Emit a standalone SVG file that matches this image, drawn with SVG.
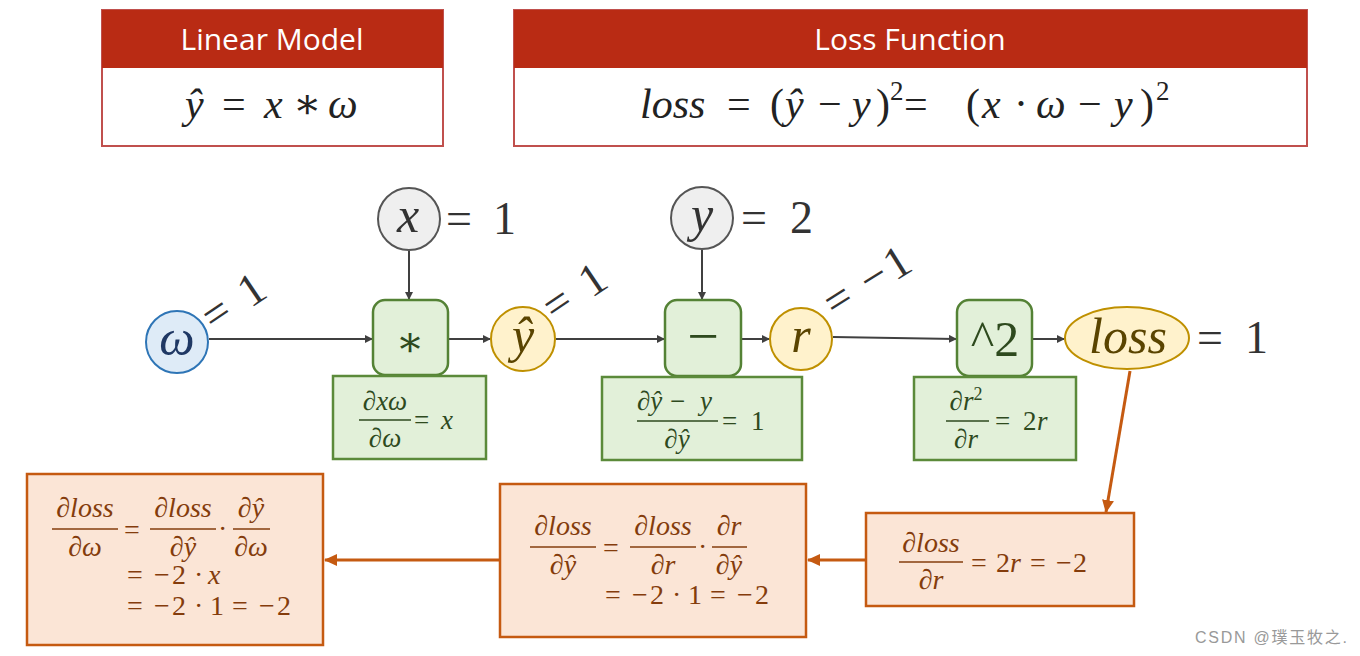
<svg xmlns="http://www.w3.org/2000/svg" width="1360" height="656" viewBox="0 0 1360 656">
<defs>
<style>
.hdr{fill:#B92B14}
.hbox{fill:#fff;stroke:#C0504D;stroke-width:2}
.htxt{font-family:"Open Sans","Noto Sans",sans-serif;font-size:30px;fill:#fff;text-anchor:middle}
.m{font-family:"Liberation Serif","DejaVu Serif",serif;font-style:italic}
.u{font-style:normal}
.top{font-size:42px;fill:#222}
.big{font-size:46px;fill:#333}
.nl{font-size:50px}
.grn{fill:#E2F0D9;stroke:#548235;stroke-width:2.5}
.gbox{fill:#E2F0D9;stroke:#5B8A3A;stroke-width:2.5}
.gt{font-size:27px;fill:#2E4A1E}
.org{fill:#FBE5D6;stroke:#C55A11;stroke-width:2.5}
.ot{font-size:28px;fill:#843C0C}
.gl{stroke:#2E4A1E;stroke-width:1.6}
.ol{stroke:#843C0C;stroke-width:1.6}
.blk{stroke:#404040;stroke-width:2;fill:none;marker-end:url(#ab)}
.orl{stroke:#C55A11;stroke-width:3;fill:none;marker-end:url(#ao)}
</style>
<marker id="ab" markerWidth="8" markerHeight="8" refX="7" refY="4" orient="auto" markerUnits="userSpaceOnUse"><path d="M0,0 L8,4 L0,8 z" fill="#404040"/></marker>
<marker id="ao" markerWidth="14" markerHeight="14" refX="12" refY="7" orient="auto" markerUnits="userSpaceOnUse"><path d="M0,1 L13,7 L0,13 z" fill="#C55A11"/></marker>
</defs>

<g id="linear-model">
<rect class="hbox" x="102" y="10" width="341" height="136"/>
<rect class="hdr" x="102" y="10" width="341" height="58"/>
<text class="htxt" x="272" y="50">Linear Model</text>
<text class="m top" y="118"><tspan x="185">ŷ</tspan><tspan class="u" x="222">=</tspan><tspan x="264">x</tspan><tspan class="u" x="293">∗</tspan><tspan x="328">ω</tspan></text>
</g>

<g id="loss-function">
<rect class="hbox" x="514" y="10" width="793" height="136"/>
<rect class="hdr" x="514" y="10" width="793" height="58"/>
<text class="htxt" x="910" y="50">Loss Function</text>
<text class="m top" y="118"><tspan x="640">loss</tspan><tspan class="u" x="727">=</tspan><tspan class="u" x="770">(</tspan><tspan x="785">ŷ</tspan><tspan class="u" x="818">−</tspan><tspan x="852">y</tspan><tspan class="u" x="876">)</tspan><tspan class="u" x="890" font-size="27" dy="-18">2</tspan><tspan class="u" x="904" dy="18">=</tspan><tspan class="u" x="966">(</tspan><tspan x="982">x</tspan><tspan class="u" x="1014">·</tspan><tspan x="1036">ω</tspan><tspan class="u" x="1078">−</tspan><tspan x="1114">y</tspan><tspan class="u" x="1140">)</tspan><tspan class="u" x="1156" font-size="27" dy="-18">2</tspan></text>
</g>

<g id="connectors">
<line class="blk" x1="209" y1="339" x2="372" y2="339"/>
<line class="blk" x1="409" y1="251" x2="409" y2="299"/>
<line class="blk" x1="449" y1="339" x2="490" y2="339"/>
<line class="blk" x1="556" y1="339" x2="664" y2="339"/>
<line class="blk" x1="702" y1="250" x2="702" y2="299"/>
<line class="blk" x1="742" y1="339" x2="769" y2="339"/>
<line class="blk" x1="833" y1="337" x2="956" y2="339"/>
<line class="blk" x1="1033" y1="339" x2="1064" y2="339"/>
<line class="orl" x1="1130" y1="371" x2="1106" y2="512"/>
<line class="orl" x1="866" y1="560" x2="808" y2="560"/>
<line class="orl" x1="500" y1="560" x2="325" y2="560"/>
</g>

<g id="node-omega">
<circle cx="177" cy="342" r="31" fill="#DEEBF7" stroke="#2E75B6" stroke-width="2"/>
<text class="m nl" x="177" y="355" text-anchor="middle" fill="#1F3864">ω</text>
<text class="m big u" transform="translate(214,333) rotate(-34)"><tspan x="0">=</tspan><tspan x="44">1</tspan></text>
</g>

<g id="node-x">
<circle cx="409" cy="219" r="31" fill="#EFEFEF" stroke="#555" stroke-width="2"/>
<text class="m nl" x="408" y="232" text-anchor="middle" fill="#333">x</text>
<text class="m big u" y="234"><tspan x="446">=</tspan><tspan x="493">1</tspan></text>
</g>

<g id="node-mul">
<rect class="grn" x="373" y="300" width="75" height="75" rx="12"/>
<text class="m u" x="410" y="356" text-anchor="middle" font-size="42" fill="#2E4A1E">∗</text>
</g>

<g id="node-yhat">
<circle cx="523" cy="339" r="32" fill="#FFF2CC" stroke="#BF9000" stroke-width="2"/>
<text class="m nl" x="523" y="352" text-anchor="middle" fill="#5A4400">ŷ</text>
<text class="m big u" transform="translate(555,323) rotate(-34)"><tspan x="0">=</tspan><tspan x="44">1</tspan></text>
</g>

<g id="node-y">
<circle cx="702" cy="218" r="31" fill="#EFEFEF" stroke="#555" stroke-width="2"/>
<text class="m nl" x="702" y="231" text-anchor="middle" fill="#333">y</text>
<text class="m big u" y="233"><tspan x="741">=</tspan><tspan x="790">2</tspan></text>
</g>

<g id="node-sub">
<rect class="grn" x="665" y="300" width="76" height="76" rx="12"/>
<text class="m u" x="703" y="355" text-anchor="middle" font-size="56" fill="#2E4A1E">−</text>
</g>

<g id="node-r">
<circle cx="801" cy="339" r="31" fill="#FFF2CC" stroke="#BF9000" stroke-width="2"/>
<text class="m nl" x="801" y="352" text-anchor="middle" fill="#5A4400">r</text>
<text class="m big u" transform="translate(835,319) rotate(-32)"><tspan x="0">=</tspan><tspan x="42">−</tspan><tspan x="71">1</tspan></text>
</g>

<g id="node-sq">
<rect class="grn" x="957" y="300" width="75" height="76" rx="12"/>
<text class="m u" x="995" y="356" text-anchor="middle" font-size="50" fill="#2E4A1E">^2</text>
</g>

<g id="node-loss">
<ellipse cx="1127" cy="338" rx="62" ry="31" fill="#FFF2CC" stroke="#BF9000" stroke-width="2"/>
<text class="m nl" x="1128" y="353" text-anchor="middle" fill="#5A4400">loss</text>
<text class="m big u" y="353"><tspan x="1197">=</tspan><tspan x="1245">1</tspan></text>
</g>

<g id="deriv-mul">
<rect class="gbox" x="333" y="376" width="153" height="83"/>
<text class="m gt" x="385" y="410" text-anchor="middle">∂xω</text>
<line class="gl" x1="359" y1="420" x2="411" y2="420"/>
<text class="m gt" x="385" y="447" text-anchor="middle">∂ω</text>
<text class="m gt" y="429"><tspan class="u" x="414">=</tspan><tspan x="441">x</tspan></text>
</g>

<g id="deriv-sub">
<rect class="gbox" x="602" y="377" width="200" height="83"/>
<text class="m gt" y="410"><tspan x="637">∂ŷ</tspan><tspan class="u" x="670">−</tspan><tspan x="700">y</tspan></text>
<line class="gl" x1="637" y1="421" x2="718" y2="421"/>
<text class="m gt" x="677" y="448" text-anchor="middle">∂ŷ</text>
<text class="m gt u" y="430"><tspan x="722">=</tspan><tspan x="751">1</tspan></text>
</g>

<g id="deriv-sq">
<rect class="gbox" x="914" y="377" width="162" height="83"/>
<text class="m gt" x="966" y="410" text-anchor="middle">∂r<tspan class="u" font-size="18" dy="-10">2</tspan></text>
<line class="gl" x1="946" y1="421" x2="989" y2="421"/>
<text class="m gt" x="966" y="448" text-anchor="middle">∂r</text>
<text class="m gt" y="430"><tspan class="u" x="995">=</tspan><tspan class="u" x="1023">2</tspan><tspan x="1037">r</tspan></text>
</g>

<g id="grad-r">
<rect class="org" x="866" y="513" width="268" height="93"/>
<text class="m ot" x="931" y="552" text-anchor="middle">∂loss</text>
<line class="ol" x1="899" y1="562" x2="963" y2="562"/>
<text class="m ot" x="931" y="589" text-anchor="middle">∂r</text>
<text class="m ot" y="572"><tspan class="u" x="971">=</tspan><tspan class="u" x="996">2</tspan><tspan x="1010">r</tspan><tspan class="u" x="1030">=</tspan><tspan class="u" x="1056">−</tspan><tspan class="u" x="1073">2</tspan></text>
</g>

<g id="grad-yhat">
<rect class="org" x="500" y="484" width="306" height="153"/>
<text class="m ot" x="563" y="535" text-anchor="middle">∂loss</text>
<line class="ol" x1="530" y1="547" x2="596" y2="547"/>
<text class="m ot" x="563" y="574" text-anchor="middle">∂ŷ</text>
<text class="m ot u" x="603" y="557">=</text>
<text class="m ot" x="663" y="535" text-anchor="middle">∂loss</text>
<line class="ol" x1="630" y1="547" x2="696" y2="547"/>
<text class="m ot" x="663" y="574" text-anchor="middle">∂r</text>
<text class="m ot u" x="698" y="556">·</text>
<text class="m ot" x="729" y="535" text-anchor="middle">∂r</text>
<line class="ol" x1="712" y1="547" x2="747" y2="547"/>
<text class="m ot" x="729" y="574" text-anchor="middle">∂ŷ</text>
<text class="m ot u" y="604"><tspan x="605">=</tspan><tspan x="632">−</tspan><tspan x="650">2</tspan><tspan x="672">·</tspan><tspan x="688">1</tspan><tspan x="710">=</tspan><tspan x="737">−</tspan><tspan x="755">2</tspan></text>
</g>

<g id="grad-omega">
<rect class="org" x="27" y="474" width="296" height="171"/>
<text class="m ot" x="85" y="517" text-anchor="middle">∂loss</text>
<line class="ol" x1="52" y1="529" x2="118" y2="529"/>
<text class="m ot" x="85" y="556" text-anchor="middle">∂ω</text>
<text class="m ot u" x="124" y="539">=</text>
<text class="m ot" x="183" y="517" text-anchor="middle">∂loss</text>
<line class="ol" x1="150" y1="529" x2="216" y2="529"/>
<text class="m ot" x="183" y="556" text-anchor="middle">∂ŷ</text>
<text class="m ot u" x="218" y="538">·</text>
<text class="m ot" x="251" y="517" text-anchor="middle">∂ŷ</text>
<line class="ol" x1="233" y1="529" x2="270" y2="529"/>
<text class="m ot" x="251" y="556" text-anchor="middle">∂ω</text>
<text class="m ot" y="584"><tspan class="u" x="127">=</tspan><tspan class="u" x="154">−</tspan><tspan class="u" x="172">2</tspan><tspan class="u" x="194">·</tspan><tspan x="208">x</tspan></text>
<text class="m ot u" y="615"><tspan x="127">=</tspan><tspan x="154">−</tspan><tspan x="172">2</tspan><tspan x="194">·</tspan><tspan x="210">1</tspan><tspan x="232">=</tspan><tspan x="259">−</tspan><tspan x="277">2</tspan></text>
</g>

<text x="1195" y="643" font-family="'Liberation Sans','Noto Sans CJK SC',sans-serif" font-size="16" fill="#999" textLength="152">CSDN @璞玉牧之.</text>
</svg>
